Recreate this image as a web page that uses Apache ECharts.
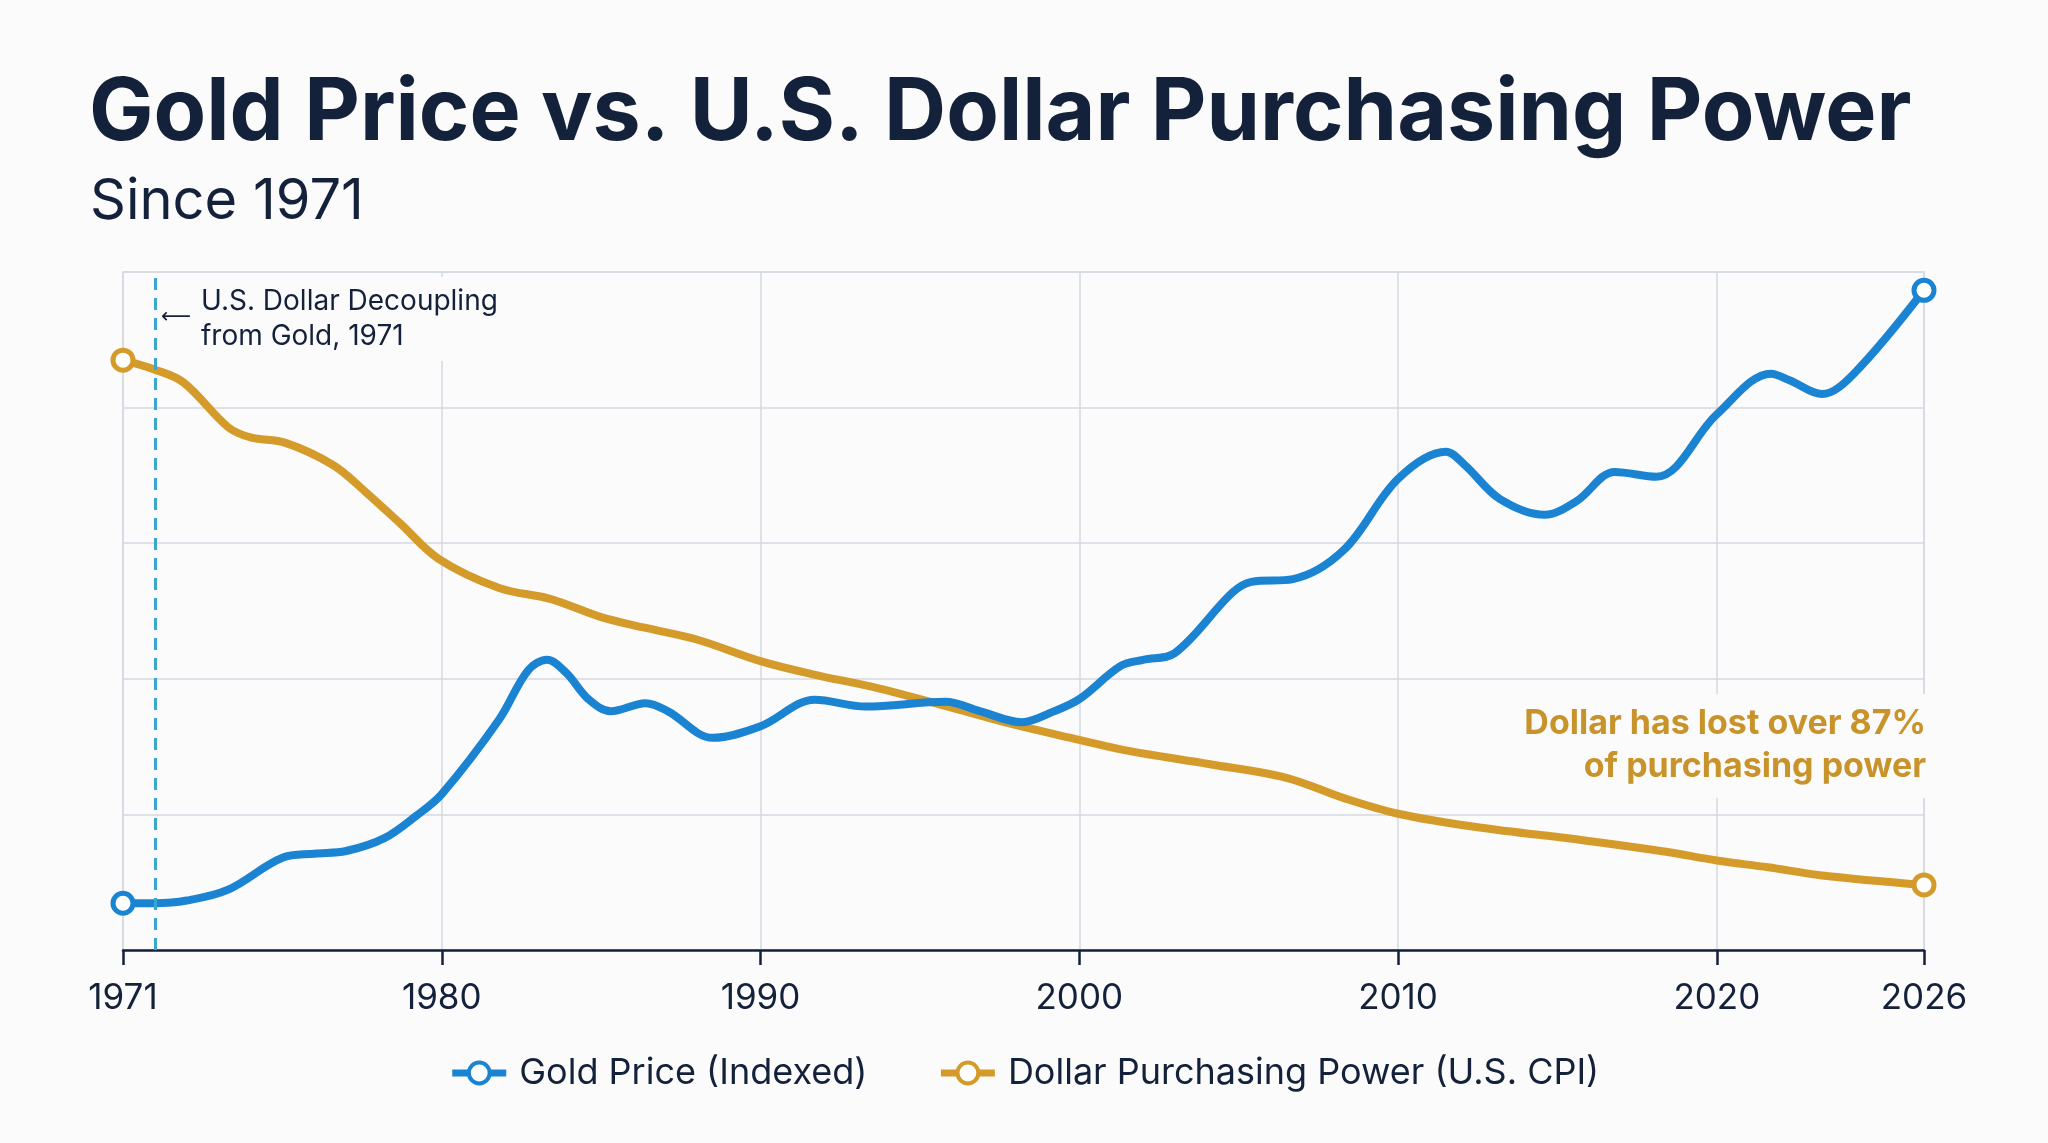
<!DOCTYPE html>
<html>
<head>
  <meta charset="utf-8">
  <title>Gold Price vs. U.S. Dollar Purchasing Power</title>
  <script src="https://cdn.jsdelivr.net/npm/echarts@6/dist/echarts.min.js"></script>
  <style>
    html, body { margin: 0; padding: 0; background: #fbfbfc; }
    #chart { width: 2048px; height: 1143px; }
  </style>
</head>
<body>
  <div id="chart"></div>
  <script>
    // x positions as they sit on the drawn axis (first tick is labelled 1971, last 2026)
    var goldYears = [1970, 1971, 1972, 1973.3, 1975, 1976, 1977, 1978.2, 1979.2, 1980, 1981.8, 1982.7, 1983.3, 1983.9, 1984.6, 1985.3, 1986.4, 1987.1, 1988.5, 1990, 1991.7, 1993.3, 1995.8, 1996.9, 1998.2, 1999.2, 2000, 2001.3, 2002, 2003, 2004.8, 2005.4, 2006.7, 2008.3, 2010, 2011.5, 2012.1, 2013.2, 2014.6, 2015.6, 2016.8, 2018.1, 2020, 2021.7, 2022.3, 2023.3, 2024.3, 2026.5];
    var goldIndex = [6.9, 6.9, 7.3, 8.9, 13.6, 14.2, 14.6, 16.5, 19.8, 23, 34, 41.2, 42.8, 40.9, 37, 35.2, 36.4, 35.2, 31.3, 33, 36.9, 35.9, 36.6, 35.2, 33.6, 35.2, 37, 41.9, 42.8, 43.8, 52.7, 54.3, 54.7, 59, 69.5, 73.5, 71.5, 66.5, 64.2, 66.2, 70.5, 69.8, 79, 85, 84, 82, 85, 97.3];

    var dollarYears = [1970, 1971, 1971.9, 1973.3, 1974, 1975.1, 1976.6, 1977.6, 1978.7, 1979.9, 1981.8, 1983.4, 1985, 1986.4, 1988, 1990, 1991.6, 1993.7, 1995.8, 1997.9, 2000, 2001.5, 2004.1, 2006.5, 2008.3, 2010, 2012.5, 2015.8, 2018.4, 2020, 2021.6, 2023.3, 2026.5];
    var dollarPower = [87, 85.6, 83.7, 77.1, 75.6, 74.8, 71.5, 67.6, 62.9, 57.7, 53.4, 51.8, 49.1, 47.5, 45.8, 42.6, 40.7, 38.6, 36, 33.3, 31, 29.4, 27.4, 25.4, 22.4, 20.1, 18.1, 16.2, 14.5, 13.2, 12.2, 11, 9.6];

    var tickYears = [1970, 1980, 1990, 2000, 2010, 2020, 2026.5];
    var tickLabels = ['1971', '1980', '1990', '2000', '2010', '2020', '2026'];
    var decouplingYear = 1971;

    var BLUE = '#1b84d2';
    var GOLD = '#d49b2a';
    var NAVY = '#14213a';
    var GRID = '#d5d9e0';
    var BG = '#fbfbfc';
    var FONT = 'Inter';

    function pairs(xs, ys) {
      return xs.map(function (x, i) { return [x, ys[i]]; });
    }
    function endsOnly(n) {
      return function (val, params) {
        return (params.dataIndex === 0 || params.dataIndex === n - 1) ? 20 : 0;
      };
    }

    var myChart = echarts.init(document.getElementById('chart'));
    var option = {
      animation: false,
      backgroundColor: BG,
      textStyle: { fontFamily: FONT },
      grid: {
        left: 123, right: 124, top: 272, bottom: 193,
        show: true, borderColor: GRID, borderWidth: 1.5
      },
      xAxis: {
        type: 'value',
        min: 1970,
        max: 2026.5,
        interval: 10,
        axisLine: { lineStyle: { color: NAVY, width: 2.5 } },
        axisTick: { customValues: tickYears, length: 15, lineStyle: { color: NAVY, width: 2.5 } },
        axisLabel: {
          customValues: tickYears,
          margin: 31,
          fontSize: 35,
          color: NAVY,
          formatter: function (v) {
            var i = tickYears.indexOf(v);
            return i >= 0 ? tickLabels[i] : '';
          }
        },
        splitLine: { show: true, lineStyle: { color: GRID, width: 1.5 } }
      },
      yAxis: {
        type: 'value',
        min: 0, max: 100, interval: 20,
        axisLine: { show: false },
        axisTick: { show: false },
        axisLabel: { show: false },
        splitLine: { lineStyle: { color: GRID, width: 1.5 } }
      },
      legend: {
        left: 'center',
        top: 1050,
        itemWidth: 54,
        itemHeight: 26,
        itemGap: 70,
        lineStyle: { width: 7 },
        itemStyle: { borderWidth: 4 },
        textStyle: { fontSize: 36, color: NAVY, fontFamily: FONT, padding: [0, 0, 0, 8] },
        data: ['Gold Price (Indexed)', 'Dollar Purchasing Power (U.S. CPI)']
      },
      series: [
        {
          name: 'Gold Price (Indexed)',
          type: 'line',
          smooth: 0.35,
          data: pairs(goldYears, goldIndex),
          symbol: 'circle',
          showAllSymbol: true,
          symbolSize: endsOnly(goldYears.length),
          itemStyle: { color: '#ffffff', borderColor: BLUE, borderWidth: 5 },
          lineStyle: { color: BLUE, width: 8 },
          z: 4,
          markLine: {
            silent: true,
            symbol: 'none',
            label: { show: false },
            lineStyle: { color: '#3aa5cd', type: [12, 8], width: 3 },
            data: [{ xAxis: decouplingYear }]
          }
        },
        {
          name: 'Dollar Purchasing Power (U.S. CPI)',
          type: 'line',
          smooth: 0.35,
          data: pairs(dollarYears, dollarPower),
          symbol: 'circle',
          showAllSymbol: true,
          symbolSize: endsOnly(dollarYears.length),
          itemStyle: { color: '#ffffff', borderColor: GOLD, borderWidth: 5 },
          lineStyle: { color: GOLD, width: 8 },
          z: 3
        }
      ],
      graphic: [
        {
          type: 'text', z: 10,
          style: { text: 'Gold Price vs. U.S. Dollar Purchasing Power', x: 89, y: 114, textVerticalAlign: 'middle',
                   font: 'bold 86px Inter', fill: NAVY }
        },
        {
          type: 'text', z: 10,
          style: { text: 'Since 1971', x: 90, y: 202, textVerticalAlign: 'middle',
                   font: '56px Inter', fill: NAVY }
        },
        // patches behind the two notes
        { type: 'rect', z: 1, shape: { x: 192, y: 277, width: 312, height: 84 }, style: { fill: BG } },
        { type: 'rect', z: 1, shape: { x: 1505, y: 694, width: 430, height: 104 }, style: { fill: BG } },
        {
          type: 'text', z: 10,
          style: { text: '\u27f5', x: 161, y: 318, textVerticalAlign: 'middle', font: '21px "DejaVu Sans"', fill: NAVY }
        },
        {
          type: 'text', z: 10,
          style: { text: 'U.S. Dollar Decoupling', x: 201, y: 302, textVerticalAlign: 'middle', font: '28px Inter', fill: NAVY }
        },
        {
          type: 'text', z: 10,
          style: { text: 'from Gold, 1971', x: 201, y: 337, textVerticalAlign: 'middle', font: '28px Inter', fill: NAVY }
        },
        {
          type: 'text', z: 10,
          style: { text: 'Dollar has lost over 87%', x: 1926, y: 724, textAlign: 'right', textVerticalAlign: 'middle',
                   font: 'bold 34px Inter', fill: '#c8932a' }
        },
        {
          type: 'text', z: 10,
          style: { text: 'of purchasing power', x: 1926, y: 767, textAlign: 'right', textVerticalAlign: 'middle',
                   font: 'bold 34px Inter', fill: '#c8932a' }
        }
      ]
    };
    myChart.setOption(option);
  </script>
</body>
</html>
